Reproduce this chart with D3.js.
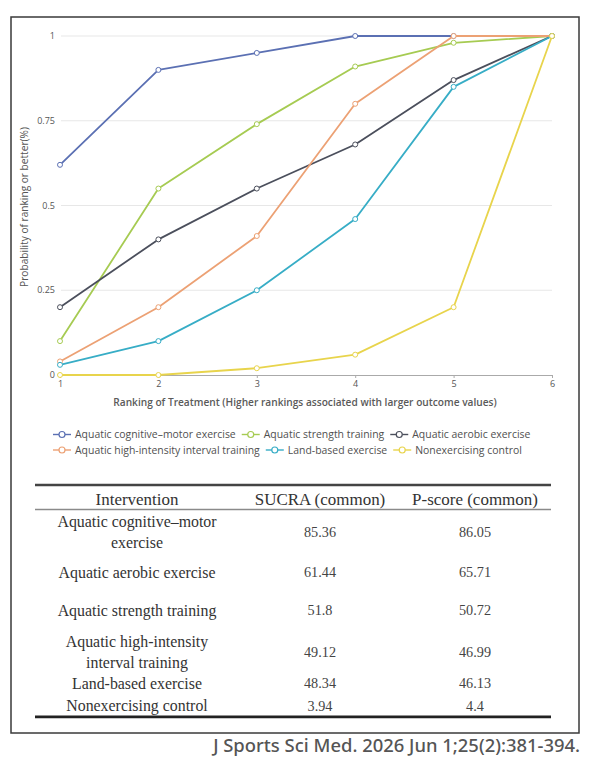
<!DOCTYPE html>
<html>
<head>
<meta charset="utf-8">
<script src="https://cdn.jsdelivr.net/npm/d3@7"></script>
<style>
  html, body { margin: 0; padding: 0; background: #fff; }
  svg { display: block; }
</style>
</head>
<body>
<svg id="chart" width="592" height="766"></svg>
<script>
// ---------- data ----------
const ranks = [1, 2, 3, 4, 5, 6];
const seriesNames = [
  "Aquatic cognitive–motor exercise",
  "Aquatic strength training",
  "Aquatic aerobic exercise",
  "Aquatic high-intensity interval training",
  "Land-based exercise",
  "Nonexercising control"
];
const seriesColors = ["#5b70b3", "#a6cb52", "#4b4f5c", "#eca174", "#37adc6", "#e8d44c"];
const cognitiveMotor = [0.62, 0.90, 0.95, 1.00, 1.00, 1.00];
const strengthTraining = [0.10, 0.55, 0.74, 0.91, 0.98, 1.00];
const aerobicExercise = [0.20, 0.40, 0.55, 0.68, 0.87, 1.00];
const hiitTraining = [0.04, 0.20, 0.41, 0.80, 1.00, 1.00];
const landBased = [0.03, 0.10, 0.25, 0.46, 0.85, 1.00];
const nonExercising = [0.00, 0.00, 0.02, 0.06, 0.20, 1.00];
const seriesValues = [cognitiveMotor, strengthTraining, aerobicExercise, hiitTraining, landBased, nonExercising];

const yTicks = [0, 0.25, 0.5, 0.75, 1];
const yTickLabels = ["0", "0.25", "0.5", "0.75", "1"];
const xTitle = "Ranking of Treatment (Higher rankings associated with larger outcome values)";
const yTitle = "Probability of ranking or better(%)";

const tableHeaders = ["Intervention", "SUCRA (common)", "P-score (common)"];
const tableInterventions = [
  ["Aquatic cognitive–motor", "exercise"],
  ["Aquatic aerobic exercise"],
  ["Aquatic strength training"],
  ["Aquatic high-intensity", "interval training"],
  ["Land-based exercise"],
  ["Nonexercising control"]
];
const tableSucra = ["85.36", "61.44", "51.8", "49.12", "48.34", "3.94"];
const tablePscore = ["86.05", "65.71", "50.72", "46.99", "46.13", "4.4"];
const citation = "J Sports Sci Med. 2026 Jun 1;25(2):381-394.";

// ---------- helpers ----------
function fit(sel, target) {
  const n = sel.node();
  const cur = parseFloat(sel.style("font-size"));
  const len = n.getComputedTextLength();
  if (len > 0) sel.style("font-size", (cur * target / len) + "px");
  return parseFloat(sel.style("font-size"));
}

const svg = d3.select("#chart");
svg.append("rect").attr("x", 0).attr("y", 0).attr("width", 592).attr("height", 766).attr("fill", "#fff");

// outer frame
svg.append("rect")
  .attr("x", 11).attr("y", 17).attr("width", 568).attr("height", 716)
  .attr("fill", "none").attr("stroke", "#3a3a3a").attr("stroke-width", 1.5);

// ---------- chart ----------
const x = d3.scaleLinear().domain([1, 6]).range([60, 552]);
const y = d3.scaleLinear().domain([0, 1]).range([375, 36]);

const sans = "'Open Sans', 'Noto Sans', sans-serif";

// gridlines
svg.append("g").selectAll("line")
  .data(yTicks.filter(d => d > 0))
  .join("line")
  .attr("x1", x(1) + 1).attr("x2", x(6))
  .attr("y1", d => y(d)).attr("y2", d => y(d))
  .attr("stroke", "#e7e7e7").attr("stroke-width", 1);

// y tick labels
svg.append("g").selectAll("text")
  .data(yTicks)
  .join("text")
  .attr("x", 55).attr("y", d => y(d)).attr("dy", "0.35em")
  .attr("text-anchor", "end")
  .style("font-family", sans).style("font-size", "9px").attr("fill", "#555")
  .text((d, i) => yTickLabels[i]);

// x axis
const xAxis = svg.append("g")
  .attr("transform", `translate(0,${y(0)})`)
  .call(d3.axisBottom(x).tickValues(ranks).tickFormat(d3.format("d")).tickSize(3).tickPadding(3).tickSizeOuter(0));
xAxis.select(".domain").attr("stroke", "#aaa");
xAxis.selectAll(".tick line").attr("stroke", "#aaa");
xAxis.selectAll(".tick text").style("font-family", sans).style("font-size", "9px").attr("fill", "#555");

// titles
const xt = svg.append("text")
  .attr("x", 305).attr("y", 402).attr("dy", "0.35em").attr("text-anchor", "middle")
  .style("font-family", sans).style("font-size", "9.5px").style("font-weight", 600).attr("fill", "#5a5a5a")
  .text(xTitle);
fit(xt, 384);

const yt = svg.append("text")
  .attr("transform", "translate(24,207) rotate(-90)")
  .attr("dy", "0.35em").attr("text-anchor", "middle")
  .style("font-family", sans).style("font-size", "8.5px").style("font-weight", 500).attr("fill", "#555")
  .text(yTitle);
fit(yt, 160);

// lines
const line = d3.line().x((d, i) => x(ranks[i])).y(d => y(d));
const sg = svg.append("g");
seriesValues.forEach((vals, si) => {
  const g = sg.append("g");
  g.append("path").datum(vals)
    .attr("d", line).attr("fill", "none")
    .attr("stroke", seriesColors[si]).attr("stroke-width", 1.8).attr("stroke-linejoin", "round");
  g.selectAll("circle").data(vals).join("circle")
    .attr("cx", (d, i) => x(ranks[i])).attr("cy", d => y(d)).attr("r", 2.5)
    .attr("fill", "#fff").attr("stroke", seriesColors[si]).attr("stroke-width", 1);
});

// legend
const legendRows = [[0, 1, 2], [3, 4, 5]];
const legendY = [434.5, 450];
let legendFont = null;
legendRows.forEach((row, ri) => {
  let cx = 53;
  row.forEach(si => {
    const g = svg.append("g");
    g.append("line").attr("x1", cx).attr("x2", cx + 18).attr("y1", legendY[ri]).attr("y2", legendY[ri])
      .attr("stroke", seriesColors[si]).attr("stroke-width", 1.4);
    g.append("circle").attr("cx", cx + 9).attr("cy", legendY[ri]).attr("r", 3)
      .attr("fill", "#fff").attr("stroke", seriesColors[si]).attr("stroke-width", 1.2);
    const t = g.append("text").attr("x", cx + 22).attr("y", legendY[ri]).attr("dy", "0.35em")
      .style("font-family", sans).style("font-size", "9.5px").style("font-weight", 500).attr("fill", "#505050")
      .text(seriesNames[si]);
    if (legendFont === null) legendFont = fit(t, 161);
    else t.style("font-size", legendFont + "px");
    cx += 22 + t.node().getComputedTextLength() + 6;
  });
});

// ---------- table ----------
const serif = "'Liberation Serif', 'Times New Roman', serif";
const tbl = svg.append("g");
const colX = [137, 320, 475];
tbl.append("line").attr("x1", 35).attr("x2", 551).attr("y1", 485).attr("y2", 485)
  .attr("stroke", "#444").attr("stroke-width", 2.4);
tbl.append("line").attr("x1", 35).attr("x2", 551).attr("y1", 509.5).attr("y2", 509.5)
  .attr("stroke", "#8a8a8a").attr("stroke-width", 1.3);
tbl.append("line").attr("x1", 35).attr("x2", 551).attr("y1", 716.8).attr("y2", 716.8)
  .attr("stroke", "#222").attr("stroke-width", 2.8);

let headFont = null;
tableHeaders.forEach((h, i) => {
  const t = tbl.append("text").attr("x", colX[i]).attr("y", 499).attr("dy", "0.35em")
    .attr("text-anchor", "middle")
    .style("font-family", serif).style("font-size", "17px").attr("fill", "#333").text(h);
  if (headFont === null) headFont = fit(t, 83);
  else t.style("font-size", headFont + "px");
});

const rowCenters = [532, 572.3, 610, 652, 683.3, 705.7];
const lineGap = 21;
let labelFont = null, valFont = null;
{
  const probe = tbl.append("text").style("font-family", serif).style("font-size", "16px").text(tableInterventions[1][0]);
  labelFont = fit(probe, 157);
  probe.remove();
  const probe2 = tbl.append("text").style("font-family", serif).style("font-size", "14px").text(tableSucra[0]);
  valFont = fit(probe2, 32);
  probe2.remove();
}
tableInterventions.forEach((lines, ri) => {
  const c = rowCenters[ri];
  lines.forEach((ln, li) => {
    const yy = c + (li - (lines.length - 1) / 2) * lineGap;
    tbl.append("text").attr("x", colX[0]).attr("y", yy).attr("dy", "0.35em")
      .attr("text-anchor", "middle")
      .style("font-family", serif).style("font-size", labelFont + "px").attr("fill", "#333").text(ln);
  });
  tbl.append("text").attr("x", colX[1]).attr("y", c).attr("dy", "0.35em").attr("text-anchor", "middle")
    .style("font-family", serif).style("font-size", valFont + "px").attr("fill", "#444").text(tableSucra[ri]);
  tbl.append("text").attr("x", colX[2]).attr("y", c).attr("dy", "0.35em").attr("text-anchor", "middle")
    .style("font-family", serif).style("font-size", valFont + "px").attr("fill", "#444").text(tablePscore[ri]);
});

// citation
const ct = svg.append("text").attr("x", 580).attr("y", 746).attr("dy", "0.35em").attr("text-anchor", "end")
  .style("font-family", "'Noto Sans', 'Open Sans', sans-serif").style("font-size", "15px").style("font-weight", 500)
  .attr("fill", "#555").text(citation);
fit(ct, 367);
</script>
</body>
</html>
